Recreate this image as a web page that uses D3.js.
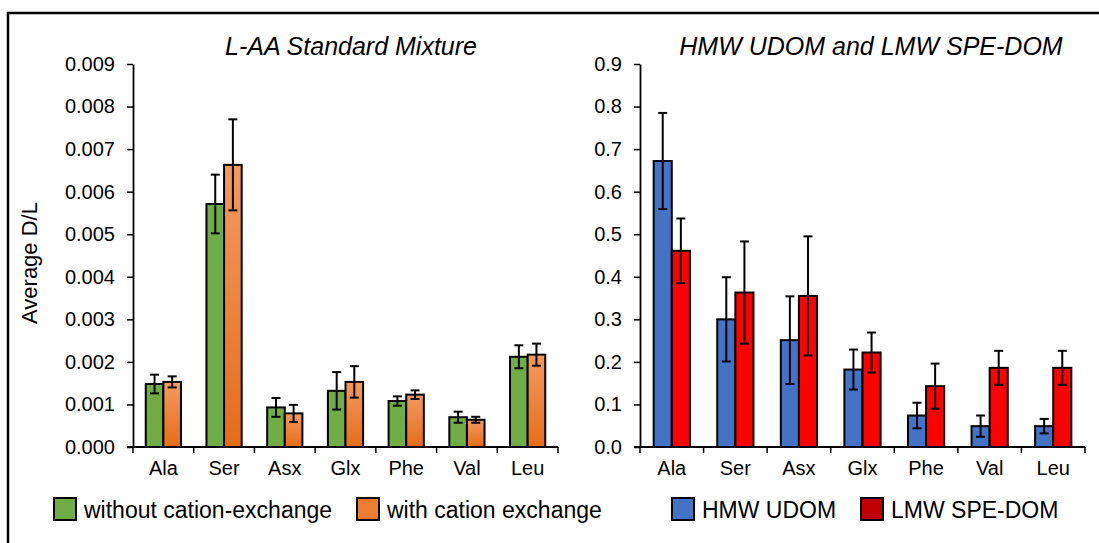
<!DOCTYPE html>
<html>
<head>
<meta charset="utf-8">
<script src="https://cdn.jsdelivr.net/npm/d3@7"></script>
<style>
  html, body { margin: 0; padding: 0; background: #fff; }
  svg { display: block; font-family: "Liberation Sans", Arial, Helvetica, sans-serif; }
</style>
</head>
<body>
<svg id="chart" width="1099" height="543"></svg>
<script>
// Amino acid categories shared by both panels
const categories = ["Ala", "Ser", "Asx", "Glx", "Phe", "Val", "Leu"];

// L-AA standard mixture: mean D/L and error
const noExchange    = [0.00148, 0.00571, 0.00093, 0.00132, 0.00108, 0.00070, 0.00212];
const noExchangeErr = [0.00022, 0.00069, 0.00022, 0.00044, 0.00011, 0.00013, 0.00027];
const exchange      = [0.00153, 0.00663, 0.00079, 0.00153, 0.00123, 0.00064, 0.00217];
const exchangeErr   = [0.00013, 0.00107, 0.00020, 0.00037, 0.00010, 0.00007, 0.00026];

// HMW UDOM and LMW SPE-DOM: mean D/L and error
const hmwUdom     = [0.672, 0.300, 0.251, 0.182, 0.074, 0.049, 0.049];
const hmwUdomErr  = [0.113, 0.099, 0.103, 0.047, 0.030, 0.025, 0.017];
const lmwSpe      = [0.461, 0.363, 0.355, 0.222, 0.143, 0.186, 0.186];
const lmwSpeErr   = [0.076, 0.120, 0.140, 0.047, 0.053, 0.040, 0.040];

// Axis tick values
const leftTicks  = [0, 0.001, 0.002, 0.003, 0.004, 0.005, 0.006, 0.007, 0.008, 0.009];
const rightTicks = [0, 0.1, 0.2, 0.3, 0.4, 0.5, 0.6, 0.7, 0.8, 0.9];

const svg = d3.select("#chart");

// gradient for the orange bars
const defs = svg.append("defs");
const grad = defs.append("linearGradient").attr("id", "orangeGrad")
  .attr("x1", 0).attr("y1", 0).attr("x2", 0).attr("y2", 1);
grad.append("stop").attr("offset", "0%").attr("stop-color", "#F39A62");
grad.append("stop").attr("offset", "100%").attr("stop-color", "#E66D18");

// outer frame (left and top edges)
svg.append("path")
  .attr("d", "M8,543 V13 H1099")
  .attr("fill", "none").attr("stroke", "#000").attr("stroke-width", 2.5);

function panel(opts) {
  const { x0, x1, yTop, yBottom, max, ticks, fmt, series, title, titleX } = opts;
  const g = svg.append("g");

  const xBand = d3.scaleBand().domain(categories)
    .range([x0, x1]).paddingInner(opts.pad).paddingOuter(opts.pad / 2);
  const xSub = d3.scaleBand().domain(d3.range(series.length))
    .range([0, xBand.bandwidth()]);
  const y = d3.scaleLinear().domain([0, max]).range([yBottom, yTop]);

  // bars
  series.forEach((s, si) => {
    g.append("g").selectAll("rect").data(categories).join("rect")
      .attr("x", d => xBand(d) + xSub(si))
      .attr("y", (d, i) => y(s.values[i]))
      .attr("width", xSub.bandwidth())
      .attr("height", (d, i) => y(0) - y(s.values[i]))
      .attr("fill", s.fill)
      .attr("stroke", "#000").attr("stroke-width", 2);
  });

  // error bars
  series.forEach((s, si) => {
    const eg = g.append("g").attr("stroke", "#000").attr("stroke-width", 2);
    categories.forEach((c, i) => {
      const cx = xBand(c) + xSub(si) + xSub.bandwidth() / 2;
      const hi = y(s.values[i] + s.err[i]);
      const lo = y(s.values[i] - s.err[i]);
      eg.append("line").attr("x1", cx).attr("x2", cx).attr("y1", hi).attr("y2", lo);
      eg.append("line").attr("x1", cx - 4.5).attr("x2", cx + 4.5).attr("y1", hi).attr("y2", hi);
      eg.append("line").attr("x1", cx - 4.5).attr("x2", cx + 4.5).attr("y1", lo).attr("y2", lo);
    });
  });

  // y axis
  const yAxis = d3.axisLeft(y).tickValues(ticks).tickFormat(d3.format(fmt))
    .tickSizeInner(6).tickSizeOuter(0).tickPadding(12);
  const ya = g.append("g").attr("transform", `translate(${x0},0)`).call(yAxis);
  ya.select(".domain").attr("stroke-width", 1.8);
  ya.selectAll(".tick line").attr("stroke-width", 1.5);
  ya.selectAll("text").attr("font-size", 20).attr("fill", "#000");

  // x axis with ticks on category boundaries
  const step = xBand.step();
  const xa = g.append("g");
  xa.append("line").attr("x1", x0 - 6).attr("x2", x1).attr("y1", y(0)).attr("y2", y(0))
    .attr("stroke", "#000").attr("stroke-width", 1.8);
  d3.range(categories.length + 1).forEach(k => {
    const tx = x0 + k * step;
    xa.append("line").attr("x1", tx).attr("x2", tx).attr("y1", y(0)).attr("y2", y(0) + 6)
      .attr("stroke", "#000").attr("stroke-width", 1.5);
  });
  xa.selectAll("text").data(categories).join("text")
    .attr("x", d => xBand(d) + xBand.bandwidth() / 2)
    .attr("y", y(0) + 28)
    .attr("text-anchor", "middle").attr("font-size", 20).attr("fill", "#000")
    .text(d => d);

  // title
  g.append("text").attr("x", titleX).attr("y", 55)
    .attr("text-anchor", "middle").attr("font-size", 25).attr("font-style", "italic")
    .attr("fill", "#000").text(title);

  return y;
}

panel({
  x0: 133, x1: 558, yTop: 64, yBottom: 447, max: 0.009, ticks: leftTicks, fmt: ".3f", pad: 0.42,
  title: "L-AA Standard Mixture", titleX: 351,
  series: [
    { values: noExchange, err: noExchangeErr, fill: "#70AD47" },
    { values: exchange, err: exchangeErr, fill: "url(#orangeGrad)" }
  ]
});

panel({
  x0: 640, x1: 1085, yTop: 64, yBottom: 447, max: 0.9, ticks: rightTicks, fmt: ".1f", pad: 0.43,
  title: "HMW UDOM and LMW SPE-DOM", titleX: 871,
  series: [
    { values: hmwUdom, err: hmwUdomErr, fill: "#4472C4" },
    { values: lmwSpe, err: lmwSpeErr, fill: "#FF0000" }
  ]
});

// y axis title
svg.append("text")
  .attr("transform", "translate(37,263) rotate(-90)")
  .attr("text-anchor", "middle").attr("font-size", 22).attr("fill", "#000")
  .text("Average D/L");

// legends
const legendItems = [
  { label: "without cation-exchange", fill: "#70AD47", x: 54 },
  { label: "with cation exchange", fill: "#ED7D31", x: 357 },
  { label: "HMW UDOM", fill: "#4472C4", x: 672 },
  { label: "LMW SPE-DOM", fill: "#C00000", x: 861 }
];
const lg = svg.append("g");
legendItems.forEach(it => {
  lg.append("rect").attr("x", it.x).attr("y", 498).attr("width", 22).attr("height", 22)
    .attr("fill", it.fill).attr("stroke", "#000").attr("stroke-width", 2);
  lg.append("text").attr("x", it.x + 30).attr("y", 518)
    .attr("font-size", 23).attr("fill", "#000").text(it.label);
});
</script>
</body>
</html>
